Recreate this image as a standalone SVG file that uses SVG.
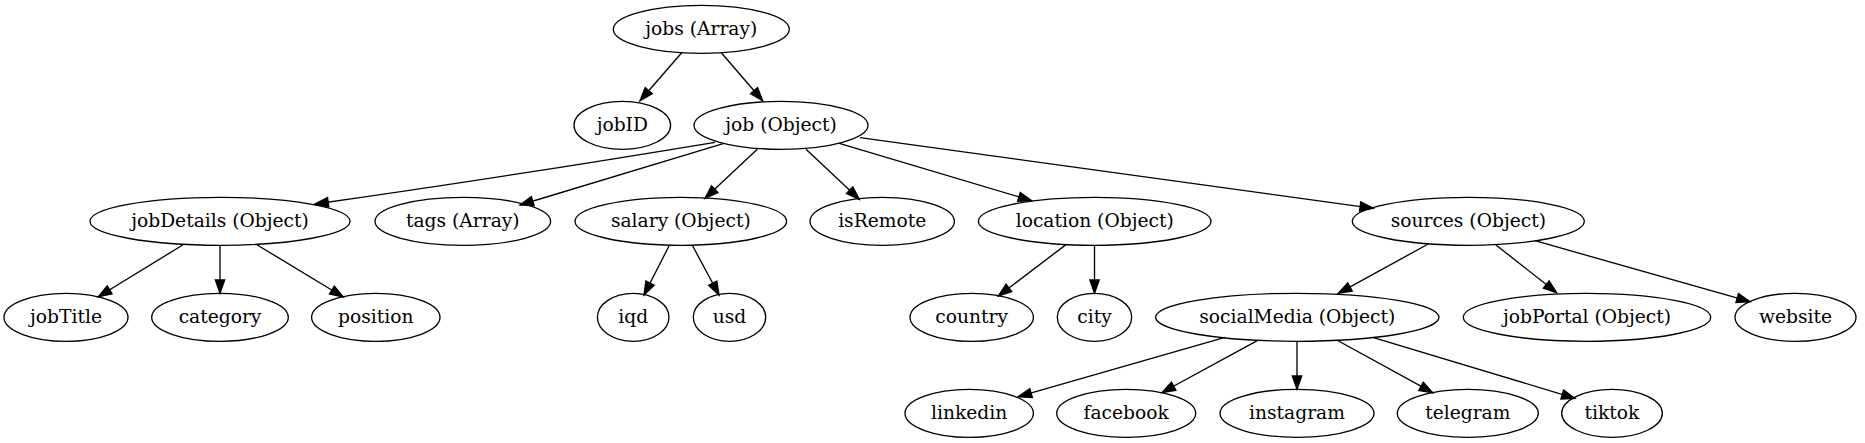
<svg xmlns="http://www.w3.org/2000/svg" width="1865" height="443" viewBox="0 0 1865 443">
<style>
.n ellipse{fill:none;stroke:#000;stroke-width:1.33}
.n text{font-family:"DejaVu Serif","Liberation Serif",serif;font-size:18.67px;text-anchor:middle;fill:#000}
#edges path{fill:none;stroke:#000;stroke-width:1.33;marker-end:url(#ah)}
</style>
<defs>
<marker id="ah" markerUnits="userSpaceOnUse" markerWidth="14" markerHeight="10" refX="13.3" refY="4.67" orient="auto" overflow="visible">
<path d="M0,0 L13.3,4.67 L0,9.33 z" fill="#000" stroke="#000" stroke-width="1.33"/>
</marker>
</defs>
<rect width="1865" height="443" fill="#fff"/>
<g id="edges">
<path d="M681.7,52.7 L640,100.7"/>
<path d="M721.3,52.7 L762.7,100.7"/>
<path d="M715,142.3 C620,158 450,185 315,204"/>
<path d="M724,143.3 L520,205"/>
<path d="M757.3,149.3 L705,198.3"/>
<path d="M806,149.3 L859.3,199.3"/>
<path d="M839.3,143.3 L1031.7,200.7"/>
<path d="M860,137.7 L1373.3,208.3"/>
<path d="M182.7,245 L98.3,296.7"/>
<path d="M220,245.3 L220,293.3"/>
<path d="M257.3,245 L343.3,297"/>
<path d="M669,246 L644,295"/>
<path d="M692.7,246 L719,295"/>
<path d="M1066,244.6 L998.3,296"/>
<path d="M1094.5,245.3 L1094.5,293.3"/>
<path d="M1428.3,244 L1338.3,293.3"/>
<path d="M1496,245 L1556.7,292.7"/>
<path d="M1535,240.7 L1750,301.7"/>
<path d="M1225,337.3 L1018.3,396.7"/>
<path d="M1257.3,340.7 L1162,392.5"/>
<path d="M1297,341.3 L1297,389.3"/>
<path d="M1336.7,340 L1432.7,392.7"/>
<path d="M1372.7,337.3 L1575,398.3"/>
</g>
<g id="jobs" class="n"><ellipse cx="701.3" cy="29.3" rx="88" ry="24"/><text x="701.3" y="35.3">jobs (Array)</text></g>
<g id="jobID" class="n"><ellipse cx="622.3" cy="125.3" rx="48.3" ry="24"/><text x="622.3" y="131.3">jobID</text></g>
<g id="job" class="n"><ellipse cx="781" cy="125.3" rx="87" ry="24"/><text x="781" y="131.3">job (Object)</text></g>
<g id="jobDetails" class="n"><ellipse cx="220" cy="221.3" rx="130" ry="24"/><text x="220" y="227.3">jobDetails (Object)</text></g>
<g id="tags" class="n"><ellipse cx="462.8" cy="221.3" rx="87.8" ry="24"/><text x="462.8" y="227.3">tags (Array)</text></g>
<g id="salary" class="n"><ellipse cx="680.8" cy="221.3" rx="105.8" ry="24"/><text x="680.8" y="227.3">salary (Object)</text></g>
<g id="isRemote" class="n"><ellipse cx="882.2" cy="221.3" rx="72.2" ry="24"/><text x="882.2" y="227.3">isRemote</text></g>
<g id="location" class="n"><ellipse cx="1094.7" cy="221.3" rx="116.3" ry="24"/><text x="1094.7" y="227.3">location (Object)</text></g>
<g id="sources" class="n"><ellipse cx="1468.3" cy="221.3" rx="116" ry="24"/><text x="1468.3" y="227.3">sources (Object)</text></g>
<g id="jobTitle" class="n"><ellipse cx="66" cy="317.3" rx="62" ry="24"/><text x="66" y="323.3">jobTitle</text></g>
<g id="category" class="n"><ellipse cx="220" cy="317.3" rx="68.3" ry="24"/><text x="220" y="323.3">category</text></g>
<g id="position" class="n"><ellipse cx="375.8" cy="317.3" rx="64.2" ry="24"/><text x="375.8" y="323.3">position</text></g>
<g id="iqd" class="n"><ellipse cx="633.2" cy="317.3" rx="35.8" ry="24"/><text x="633.2" y="323.3">iqd</text></g>
<g id="usd" class="n"><ellipse cx="729.5" cy="317.3" rx="36.2" ry="24"/><text x="729.5" y="323.3">usd</text></g>
<g id="country" class="n"><ellipse cx="971.7" cy="317.3" rx="61.7" ry="24"/><text x="971.7" y="323.3">country</text></g>
<g id="city" class="n"><ellipse cx="1094.5" cy="317.3" rx="37.2" ry="24"/><text x="1094.5" y="323.3">city</text></g>
<g id="socialMedia" class="n"><ellipse cx="1297.3" cy="317.3" rx="141.7" ry="24"/><text x="1297.3" y="323.3">socialMedia (Object)</text></g>
<g id="jobPortal" class="n"><ellipse cx="1587" cy="317.3" rx="123.7" ry="24"/><text x="1587" y="323.3">jobPortal (Object)</text></g>
<g id="website" class="n"><ellipse cx="1795.5" cy="317.3" rx="60.5" ry="24"/><text x="1795.5" y="323.3">website</text></g>
<g id="linkedin" class="n"><ellipse cx="969.2" cy="413.3" rx="64.2" ry="24"/><text x="969.2" y="419.3">linkedin</text></g>
<g id="facebook" class="n"><ellipse cx="1126.2" cy="413.3" rx="69.5" ry="24"/><text x="1126.2" y="419.3">facebook</text></g>
<g id="instagram" class="n"><ellipse cx="1297" cy="413.3" rx="77" ry="24"/><text x="1297" y="419.3">instagram</text></g>
<g id="telegram" class="n"><ellipse cx="1467.8" cy="413.3" rx="70.5" ry="24"/><text x="1467.8" y="419.3">telegram</text></g>
<g id="tiktok" class="n"><ellipse cx="1612" cy="413.3" rx="50.3" ry="24"/><text x="1612" y="419.3">tiktok</text></g>
</svg>
